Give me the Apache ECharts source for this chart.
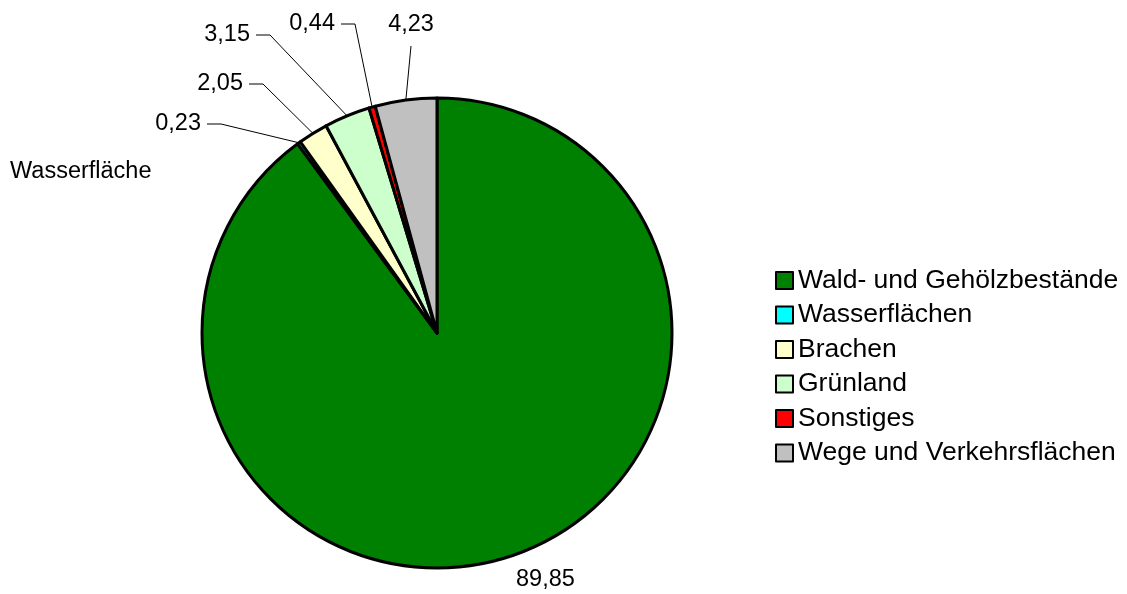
<!DOCTYPE html>
<html>
<head>
<meta charset="utf-8">
<script src="https://cdn.jsdelivr.net/npm/echarts@6/dist/echarts.min.js"></script>
<style>
    html, body { margin: 0; padding: 0; background: #fff; }
    #chart { width: 1127px; height: 594px; }
</style>
</head>
<body>
<div id="chart"></div>
<script>
// Flächenanteile in %
const categories = [
    "Wald- und Gehölzbestände",
    "Wasserflächen",
    "Brachen",
    "Grünland",
    "Sonstiges",
    "Wege und Verkehrsflächen",
];
const values = [89.85, 0.23, 2.05, 3.15, 0.44, 4.23];
const colors = ["#008000", "#00FFFF", "#FFFFCC", "#CCFFCC", "#FF0000", "#C0C0C0"];

// where each value label sits (layout only)
const labelSpots = [
    { x: 516, y: 580, align: "left" },
    { x: 201, y: 124, align: "right" },
    { x: 243, y: 84, align: "right" },
    { x: 250, y: 35, align: "right" },
    { x: 335, y: 24, align: "right" },
    { x: 411, y: 25, align: "center" },
];

const FONT = '"Liberation Sans", Arial, sans-serif';

const chart = echarts.init(document.getElementById("chart"));

const option = {
    backgroundColor: "#fff",
    animation: false,
    color: colors,
    graphic: [
        {
            type: "text",
            x: 10,
            y: 172,
            style: {
                text: "Wasserfläche",
                fontFamily: FONT,
                fontSize: 23.5,
                fill: "#000",
                verticalAlign: "middle",
            },
        },
    ],
    legend: {
        orient: "vertical",
        left: 775,
        top: 267,
        padding: 0,
        icon: "rect",
        itemWidth: 17,
        itemHeight: 17,
        itemGap: 7.5,
        selectedMode: false,
        textStyle: {
            fontFamily: FONT,
            fontSize: 26.5,
            color: "#000",
        },
        data: categories,
    },
    series: [
        {
            type: "pie",
            center: [437, 333],
            radius: 235,
            startAngle: 90,
            clockwise: true,
            avoidLabelOverlap: false,
            emphasis: { disabled: true },
            itemStyle: {
                borderColor: "#000",
                borderWidth: 3,
            },
            label: {
                show: true,
                position: "outside",
                fontFamily: FONT,
                fontSize: 23.5,
                color: "#000",
                formatter: (p) => p.value.toFixed(2).replace(".", ","),
            },
            labelLine: {
                show: true,
                length: 20,
                length2: 12,
                lineStyle: { color: "#000", width: 1 },
            },
            labelLayout: function (p) {
                const s = labelSpots[p.dataIndex];
                const out = {
                    x: s.x,
                    y: s.y,
                    align: s.align,
                    verticalAlign: "middle",
                    hideOverlap: false,
                    moveOverlap: false,
                };
                if (p.dataIndex > 0 && p.labelLinePoints) {
                    const start = p.labelLinePoints[0];
                    if (s.align === "right") {
                        const end = s.x + 6;
                        out.labelLinePoints = [start, [end + 14, s.y], [end, s.y]];
                    } else {
                        out.labelLinePoints = [start, [s.x, s.y + 21]];
                    }
                }
                return out;
            },
            data: categories.map((name, i) => ({
                name: name,
                value: values[i],
                labelLine: { show: i > 0 },
            })),
        },
    ],
};

chart.setOption(option);
</script>
</body>
</html>
